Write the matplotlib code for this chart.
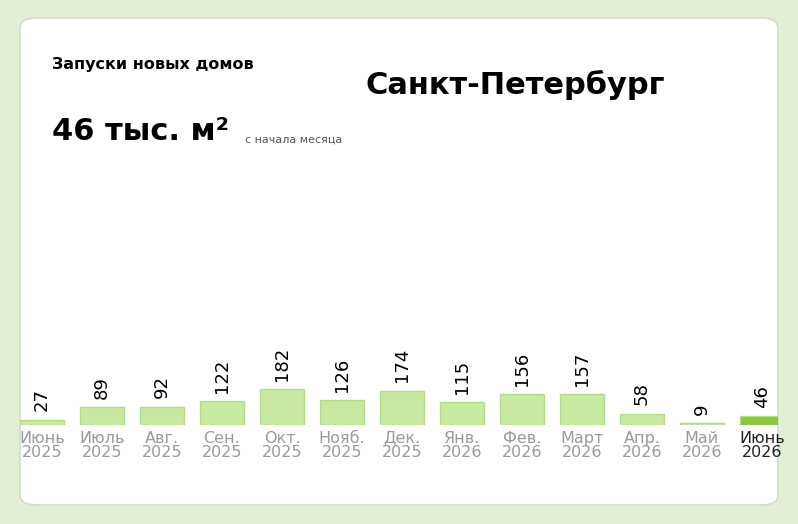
import matplotlib.pyplot as plt
from matplotlib.patches import FancyBboxPatch

months = ["Июнь", "Июль", "Авг.", "Сен.", "Окт.", "Нояб.", "Дек.", "Янв.", "Фев.", "Март", "Апр.", "Май", "Июнь"]
years = ["2025"] * 7 + ["2026"] * 6
values = [27, 89, 92, 122, 182, 126, 174, 115, 156, 157, 58, 9, 46]

W, H = 798, 524
fig = plt.figure(figsize=(W / 100, H / 100), dpi=100)
fig.patch.set_facecolor("#e3eed6")

card = FancyBboxPatch((20 / W, (H - 505) / H), 758 / W, 487 / H,
                      boxstyle="round,pad=0,rounding_size=0.02",
                      transform=fig.transFigure, facecolor="white",
                      edgecolor="#d5dccd", lw=1.2, zorder=-5)
fig.patches.append(card)

fig.text(52 / W, 1 - 65 / H, "Запуски новых домов", fontsize=11.5, fontweight="bold", va="center")
fig.text(515 / W, 1 - 85 / H, "Санкт-Петербург", fontsize=22, fontweight="bold", va="center", ha="center")
fig.text(52 / W, 1 - 132 / H, "46 тыс. м²", fontsize=22, fontweight="bold", va="center")
fig.text(245 / W, 1 - 140 / H, "с начала месяца", fontsize=8, color="#555555", va="center")

# axes: bar centres at 42 + 60*i px, baseline at y=425 px
ax = fig.add_axes([20 / W, (H - 425) / H, 758 / W, 110 / H], zorder=5)
ax.set_xlim((20 - 42) / 60, (778 - 42) / 60)
ymax = 182 * 110 / 36
ax.set_ylim(0, ymax)
ax.axis("off")

x = list(range(len(values)))
colors = ["#c8e9a2"] * (len(values) - 1) + ["#8dc63f"]
ax.bar(x, values, width=0.72, color=colors, edgecolor="#b4dc86", lw=1)
for i, v in enumerate(values):
    ax.annotate(str(v), (i, v), xytext=(0, 6), textcoords="offset points",
                rotation=90, ha="center", va="bottom", fontsize=13)
    c = "#222222" if i == len(values) - 1 else "#9a9a9a"
    ax.annotate(f"{months[i]}\n{years[i]}", (i, 0), xytext=(0, -4), textcoords="offset points",
                ha="center", va="top", fontsize=11.5, color=c, linespacing=0.95,
                annotation_clip=False)

fig.savefig("out.png", dpi=100, facecolor=fig.get_facecolor())
